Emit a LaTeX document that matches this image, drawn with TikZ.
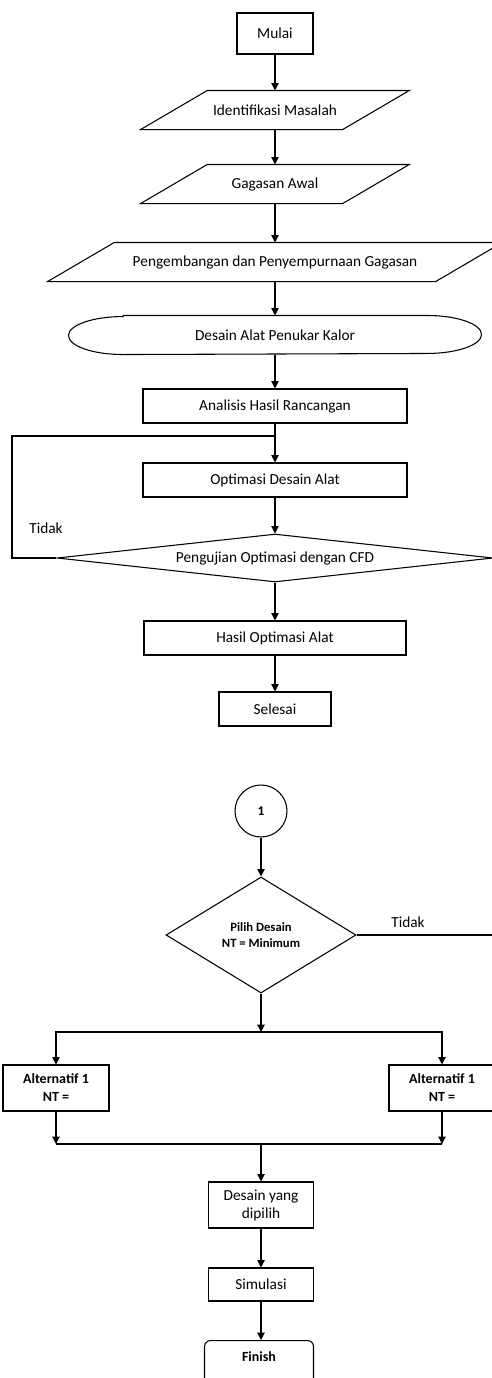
\documentclass[tikz,border=0pt]{standalone}
\usepackage{fontspec}
\setmainfont{Carlito}
\usetikzlibrary{shapes.geometric,arrows.meta}

\tikzset{
	box/.style={draw, rectangle, minimum height=25.5pt, inner sep=1pt, align=center},
	para/.style={minimum height=28.5pt, inner sep=0pt},
	keputusan/.style={draw, diamond, inner sep=0pt, align=center},
	konektor/.style={draw, circle, minimum size=39pt, inner sep=0pt, font=\bfseries},
	kecil/.style={font=\fontsize{10.5}{13.5}\selectfont\bfseries}
}

\begin{document}
\begin{tikzpicture}[x=0.75pt, y=-0.75pt, line width=0.8pt, >={Triangle[length=5.5pt,width=5.5pt]}, font=\fontsize{11.5}{13.5}\selectfont]
				\useasboundingbox (0,0) rectangle (492,1378);
				\clip (0,0) rectangle (492,1378);

				\node[box, minimum width=57pt, minimum height=30.75pt] (mulai) at (275,33.5) {Mulai};
				\node[para, minimum width=150.75pt] (idm) at (275,110) {Identifikasi Masalah};
				\node[para, minimum width=150.75pt] (gag) at (275,184) {Gagasan Awal};
				\node[para, minimum width=290.25pt] (pgb) at (275,262) {Pengembangan dan Penyempurnaan Gagasan};
				\foreach \n in {idm,gag,pgb}
					\draw ([xshift=25pt]\n.north west) -- ([xshift=25pt]\n.north east) -- ([xshift=-25pt]\n.south east) -- ([xshift=-25pt]\n.south west) -- cycle;
				\node[para, minimum width=309pt] (dsn) at (275,335) {Desain Alat Penukar Kalor};
				\draw ([xshift=41pt]dsn.north west) -- ([xshift=-41pt]dsn.north east) arc[start angle=90, end angle=-90, x radius=41pt, y radius=14.25pt] -- ([xshift=41pt]dsn.south west) arc[start angle=270, end angle=90, x radius=41pt, y radius=14.25pt] -- cycle;
				\node[box, minimum width=198pt] (anl) at (275,406) {Analisis Hasil Rancangan};
				\node[box, minimum width=198pt] (opt) at (275,480) {Optimasi Desain Alat};
				\node[keputusan, aspect=9, minimum width=327pt, minimum height=36pt] (uji) at (275,558) {Pengujian Optimasi dengan CFD};
				\node[box, minimum width=196.5pt] (hsl) at (275,638) {Hasil Optimasi Alat};
				\node[box, minimum width=84pt] (sls) at (275,709) {Selesai};
				\node (tdk1) at (46,528) {Tidak};
				\coordinate (gabung) at (275,436);
				\coordinate (balik) at (12,436);

				\draw[->] (mulai) -- (idm);
				\draw[->] (idm) -- (gag);
				\draw[->] (gag) -- (pgb);
				\draw[->] (pgb) -- (dsn);
				\draw[->] (dsn) -- (anl);
				\draw[->] (anl) -- (opt);
				\draw[->] (opt) -- (uji);
				\draw[->] (uji) -- (hsl);
				\draw[->] (hsl) -- (sls);
				\draw (uji.west) -| (balik) -- (gabung);

				\node[konektor] (satu) at (261,811) {1};
				\node[keputusan, aspect=1.6, minimum width=142.5pt, minimum height=87pt, font=\fontsize{9.5}{11.5}\selectfont\bfseries] (pilih) at (261,935) {Pilih Desain\\NT = Minimum};
				\node (tdk2) at (408,922) {Tidak};
				\node[box, kecil, minimum width=79.5pt, minimum height=34.5pt] (alt1) at (56,1088) {Alternatif 1\\NT =};
				\node[box, kecil, minimum width=79.5pt, minimum height=34.5pt] (alt2) at (442,1088) {Alternatif 1\\NT =};
				\node[box, minimum width=78.75pt, minimum height=34.5pt] (dsp) at (261,1205) {Desain yang\\dipilih};
				\node[box, minimum width=78.75pt, minimum height=24.75pt] (sim) at (261,1284.5) {Simulasi};
				\node[draw, rounded corners=4.5pt, kecil, minimum width=81.75pt, inner ysep=8pt, text depth=20pt, anchor=north] (fin) at (259,1340) {Finish};
				\coordinate (cabang) at (261,1032);
				\coordinate (gabung2) at (261,1144);
				\coordinate (ujung) at (495,935);

				\draw[->] (satu) -- (pilih);
				\draw (pilih.east) -- (ujung);
				\draw[->] (pilih) -- (cabang);
				\draw[->] (cabang) -| (alt1);
				\draw[->] (cabang) -| (alt2);
				\draw[->] (alt1) -- (alt1 |- gabung2);
				\draw[->] (alt2) -- (alt2 |- gabung2);
				\draw (alt1 |- gabung2) -- (alt2 |- gabung2);
				\draw[->] (gabung2) -- (dsp);
				\draw[->] (dsp) -- (sim);
				\draw[->] (sim) -- (sim |- fin.north);
			\end{tikzpicture}
\end{document}
